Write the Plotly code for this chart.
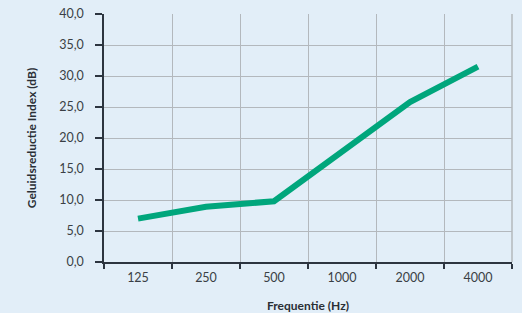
import plotly.graph_objects as go

categories = ["125", "250", "500", "1000", "2000", "4000"]
values = [7.0, 8.9, 9.8, 17.7, 25.8, 31.5]
y_ticks = [0, 5, 10, 15, 20, 25, 30, 35, 40]

bg = "#e2eef8"
grid = "#b3b8bd"
dark = "#2d3540"
font_fam = "Lato, 'Open Sans', sans-serif"

fig = go.Figure()
fig.add_trace(go.Scatter(
    x=categories, y=values, mode="lines",
    line=dict(color="#00a67c", width=6),
    hoverinfo="skip",
))

fig.add_shape(type="line", xref="paper", yref="paper", x0=1, x1=1, y0=0, y1=1,
              line=dict(color=grid, width=1.5), layer="below")

fig.add_annotation(text="<b>Frequentie (Hz)</b>", xref="paper", yref="paper",
                   x=0.5, y=0, xanchor="center", yanchor="middle", yshift=-43,
                   showarrow=False, font=dict(size=12, color="#2a2f35"))

fig.update_layout(
    width=522, height=313,
    margin=dict(l=104, r=10, t=14, b=51),
    paper_bgcolor=bg, plot_bgcolor=bg,
    separators=",.",
    showlegend=False,
    font=dict(family=font_fam, size=12.5, color="#3a3f45"),
    xaxis=dict(
        type="category", tickson="boundaries",
        range=[-0.5, 5.5], automargin=False,
        showgrid=True, gridcolor=grid, gridwidth=1.3,
        showline=True, linecolor=dark, linewidth=1.5,
        ticks="outside", ticklen=5, tickcolor=dark, tickwidth=1.5,
        ticklabelstandoff=3,
        zeroline=False,
    ),
    yaxis=dict(
        range=[0, 40], tickvals=y_ticks, tickformat=".1f", automargin=False,
        showgrid=True, gridcolor=grid, gridwidth=1.3,
        showline=True, linecolor=dark, linewidth=1.5,
        ticks="outside", ticklen=7, tickcolor=dark, tickwidth=1.5,
        ticklabelstandoff=9,
        title=dict(text="<b>Geluidsreductie Index (dB)</b>", font=dict(size=12, color="#2a2f35"), standoff=20),
        zeroline=False,
    ),
)

fig.write_html("out.html", config={"displayModeBar": False},
               post_script="document.body.style.margin='0';document.body.style.background='%s';" % bg)
